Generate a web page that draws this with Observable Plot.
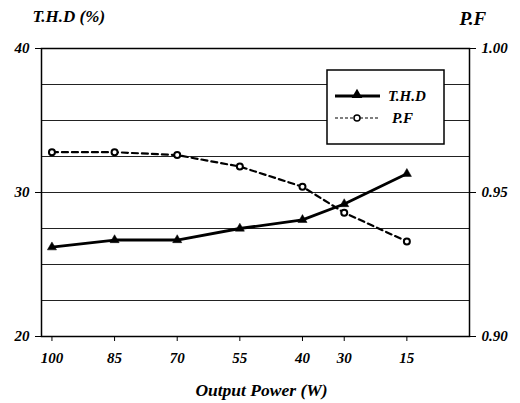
<!DOCTYPE html>
<html>
<head>
<meta charset="utf-8">
<script src="https://cdn.jsdelivr.net/npm/d3@7"></script>
<script src="https://cdn.jsdelivr.net/npm/@observablehq/plot@0.6"></script>
<style>
  html, body { margin: 0; padding: 0; background: white; }
  #chart { position: relative; width: 520px; height: 403px; }
  #chart svg text {
    font-family: "Liberation Serif", "Times New Roman", Tinos, "DejaVu Serif", serif !important;
    font-weight: bold !important;
    font-style: italic !important;
  }
</style>
</head>
<body>
<div id="chart"></div>
<script>
// Data
const outputPower = [100, 85, 70, 55, 40, 30, 15];
const thd = [26.2, 26.7, 26.7, 27.5, 28.1, 29.2, 31.3];
const pf = [0.964, 0.964, 0.963, 0.959, 0.952, 0.943, 0.933];
const thdTicks = [20, 30, 40];
const pfTicks = [0.90, 0.95, 1.00];
const gridValues = [20, 22.5, 25, 27.5, 30, 32.5, 35, 37.5, 40];

// map PF (0.90..1.00) onto the THD axis (20..40)
const pfToThd = p => 20 + (p - 0.90) * 200;

const thdData = outputPower.map((x, i) => ({x, y: thd[i]}));
const pfData = outputPower.map((x, i) => ({x, y: pfToThd(pf[i])}));

const chart = Plot.plot({
  width: 520,
  height: 403,
  marginLeft: 41,
  marginRight: 51,
  marginTop: 48,
  marginBottom: 67,
  style: {fontSize: "15px", color: "black", background: "white"},
  x: {domain: [102.5, 0]},
  y: {domain: [20, 40]},
  marks: [
    Plot.gridY(gridValues, {stroke: "#222", strokeOpacity: 1, strokeWidth: 1}),
    Plot.frame({stroke: "black", strokeWidth: 1.5}),
    Plot.axisY(thdTicks, {anchor: "left", tickSize: 6, tickPadding: 6, label: null, fontSize: 15}),
    Plot.axisY(thdTicks, {anchor: "right", tickSize: 6, tickPadding: 6, label: null, fontSize: 15,
      tickFormat: (d, i) => pfTicks[i].toFixed(2)}),
    Plot.axisX(outputPower, {anchor: "bottom", tickSize: 5, tickPadding: 11, label: null, fontSize: 15, tickFormat: d => String(d)}),
    Plot.line(pfData, {x: "x", y: "y", stroke: "black", strokeWidth: 2.2, strokeDasharray: "6,4"}),
    Plot.dot(pfData, {x: "x", y: "y", r: 3, stroke: "black", strokeWidth: 2, fill: "white"}),
    Plot.line(thdData, {x: "x", y: "y", stroke: "black", strokeWidth: 2.8}),
    Plot.dot(thdData, {x: "x", y: "y", r: 3.4, symbol: "triangle", fill: "black", stroke: "black", strokeWidth: 0.5}),
    Plot.text(["T.H.D (%)"], {frameAnchor: "top-left", dx: -9, dy: -39, textAnchor: "start", fontSize: 17}),
    Plot.text(["P.F"], {frameAnchor: "top-right", dx: -10, dy: -37, textAnchor: "start", fontSize: 19}),
    Plot.text(["Output Power (W)"], {frameAnchor: "bottom", dx: 6, dy: 59, fontSize: 17.5})
  ]
});

document.getElementById("chart").appendChild(chart);

// Legend box drawn inside the plot svg
const svg = d3.select(chart);
const leg = svg.append("g").attr("transform", "translate(327,70)");
leg.append("rect").attr("width", 117).attr("height", 74).attr("fill", "white").attr("stroke", "black").attr("stroke-width", 1.5);
const legendItems = [
  {label: "T.H.D", dash: null, w: 2.8, sym: "triangle", y: 26, tx: 61},
  {label: "P.F", dash: "3,2", w: 1.2, sym: "circle", y: 48, tx: 65}
];
legendItems.forEach(it => {
  const l = leg.append("line").attr("x1", 8).attr("x2", 53).attr("y1", it.y).attr("y2", it.y)
    .attr("stroke", "black").attr("stroke-width", it.w);
  if (it.dash) l.attr("stroke-dasharray", it.dash);
  if (it.sym === "triangle") {
    leg.append("path").attr("d", d3.symbol(d3.symbolTriangle, 50)()).attr("transform", `translate(30,${it.y - 1})`).attr("fill", "black");
  } else {
    leg.append("circle").attr("cx", 30).attr("cy", it.y).attr("r", 3).attr("fill", "white").attr("stroke", "black").attr("stroke-width", 1.5);
  }
  leg.append("text").attr("x", it.tx).attr("y", it.y).attr("dy", "0.35em")
    .attr("text-anchor", "start").attr("font-size", 15)
    .attr("fill", "black").text(it.label);
});
</script>
</body>
</html>
